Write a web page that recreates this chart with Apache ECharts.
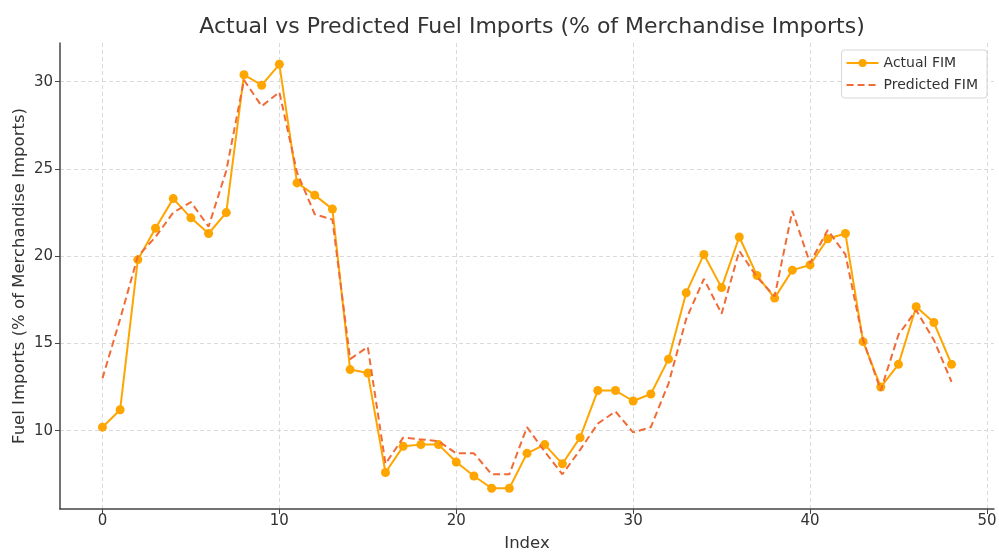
<!DOCTYPE html>
<html>
<head>
<meta charset="utf-8">
<title>Actual vs Predicted Fuel Imports</title>
<script src="https://cdn.jsdelivr.net/npm/echarts@6/dist/echarts.min.js"></script>
<style>
  html, body { margin: 0; padding: 0; background: #fff; }
  #chart { width: 999px; height: 552px; }
</style>
</head>
<body>
<div id="chart"></div>
<script>
// index 0..48
var indexes = [];
for (var i = 0; i < 49; i++) indexes.push(i);

var actualFIM = [
  10.2, 11.2, 19.8, 21.6, 23.3, 22.2, 21.3, 22.5, 30.4, 29.8,
  31.0, 24.2, 23.5, 22.7, 13.5, 13.3, 7.6, 9.1, 9.2, 9.2,
  8.2, 7.4, 6.7, 6.7, 8.7, 9.2, 8.1, 9.6, 12.3, 12.3,
  11.7, 12.1, 14.1, 17.9, 20.1, 18.2, 21.1, 18.9, 17.6, 19.2,
  19.5, 21.0, 21.3, 15.1, 12.5, 13.8, 17.1, 16.2, 13.8
];

var predictedFIM = [
  13.0, 16.4, 20.0, 21.1, 22.5, 23.1, 21.7, 24.9, 30.1, 28.6,
  29.4, 24.8, 22.4, 22.1, 14.1, 14.8, 8.1, 9.6, 9.5, 9.4,
  8.7, 8.7, 7.5, 7.5, 10.2, 8.8, 7.5, 8.9, 10.4, 11.1,
  9.9, 10.2, 12.7, 16.4, 18.7, 16.7, 20.3, 18.8, 17.7, 22.6,
  19.6, 21.5, 20.1, 15.2, 12.3, 15.5, 16.9, 15.2, 12.8
];

var chart = echarts.init(document.getElementById('chart'));

function pairs(vals) {
  return vals.map(function (v, k) { return [indexes[k], v]; });
}

var font = 'DejaVu Sans';

chart.setOption({
  animation: false,
  title: {
    text: 'Actual vs Predicted Fuel Imports (% of Merchandise Imports)',
    left: 527,
    textAlign: 'center',
    top: 11,
    textStyle: { fontFamily: font, fontSize: 22, fontWeight: 'normal', color: '#333' }
  },
  legend: {
    right: 12,
    top: 50,
    orient: 'vertical',
    itemWidth: 32,
    itemHeight: 10,
    itemGap: 8,
    padding: [6, 9, 6, 4],
    backgroundColor: '#fff',
    borderColor: '#d6d6d6',
    borderWidth: 1,
    borderRadius: 3,
    textStyle: { fontFamily: font, fontSize: 14, color: '#333' },
    data: [
      'Actual FIM',
      // dashed series has no markers, hide the symbol in its legend icon
      { name: 'Predicted FIM', itemStyle: { opacity: 0 } }
    ]
  },
  grid: { left: 60, right: 5, top: 43, bottom: 43, outerBoundsMode: 'none' },
  xAxis: {
    type: 'value',
    min: -2.4,
    max: 50.4,
    name: 'Index',
    nameLocation: 'middle',
    nameGap: 26,
    nameTextStyle: { fontFamily: font, fontSize: 16.5, color: '#333' },
    axisLine: { show: true, onZero: false, lineStyle: { color: '#444', width: 1.5 } },
    axisTick: { show: true, length: 5, lineStyle: { color: '#444' } },
    axisLabel: {
      showMinLabel: false, showMaxLabel: false,
      margin: 5, fontFamily: font, fontSize: 15, color: '#333'
    },
    splitLine: {
      show: true, showMinLine: false, showMaxLine: false,
      lineStyle: { color: '#d0d0d0', type: [4, 3], width: 0.8 }
    }
  },
  yAxis: {
    type: 'value',
    min: 5.51,
    max: 32.22,
    name: 'Fuel Imports (% of Merchandise Imports)',
    nameLocation: 'middle',
    nameGap: 32,
    nameMoveOverlap: false,
    nameTextStyle: { fontFamily: font, fontSize: 16.5, color: '#333' },
    axisLine: { show: true, onZero: false, lineStyle: { color: '#444', width: 1.5 } },
    axisTick: { show: true, length: 5, lineStyle: { color: '#444' } },
    axisLabel: {
      showMinLabel: false, showMaxLabel: false,
      margin: 7, fontFamily: font, fontSize: 15, color: '#333'
    },
    splitLine: {
      show: true, showMinLine: false, showMaxLine: false,
      lineStyle: { color: '#d0d0d0', type: [4, 3], width: 0.8 }
    }
  },
  series: [
    {
      name: 'Actual FIM',
      type: 'line',
      data: pairs(actualFIM),
      symbol: 'circle',
      symbolSize: 9,
      color: '#FFA500',
      lineStyle: { color: '#FFA500', width: 2 },
      itemStyle: { color: '#FFA500' },
      z: 2
    },
    {
      name: 'Predicted FIM',
      type: 'line',
      data: pairs(predictedFIM),
      symbol: 'none',
      showSymbol: false,
      color: '#F06B35',
      lineStyle: { color: '#F06B35', width: 2, type: [7, 4] },
      z: 3
    }
  ]
});
</script>
</body>
</html>
